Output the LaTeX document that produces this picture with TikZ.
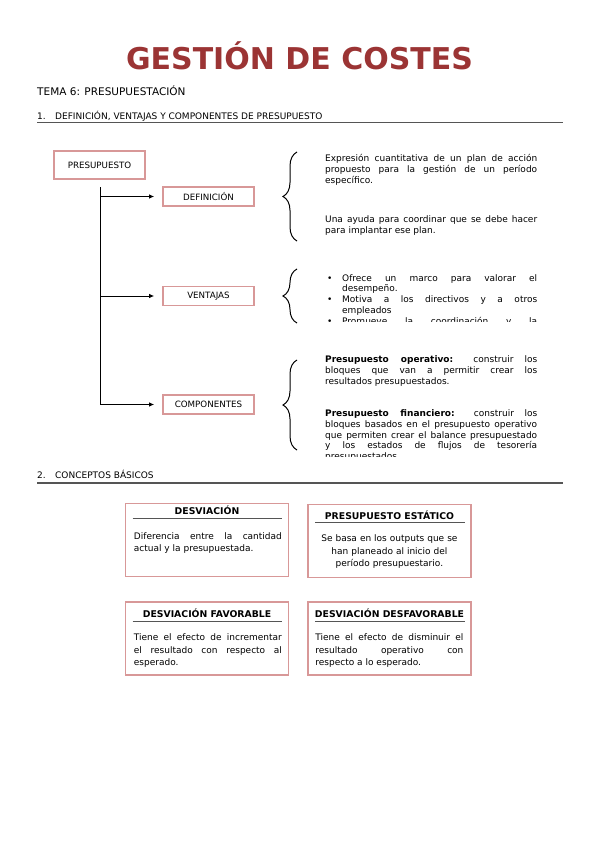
\documentclass[tikz,border=0pt]{standalone}
\usepackage{fontspec}
\setmainfont{DejaVu Sans}
\usetikzlibrary{positioning, arrows.meta, decorations.pathreplacing}
\definecolor{titlered}{RGB}{155,52,52}
\definecolor{boxpink}{RGB}{216,152,152}
\definecolor{rulegray}{RGB}{85,85,85}
\tikzset{
  heading/.style={anchor=base west, inner sep=0pt, font=\fontsize{9}{10}\selectfont},
  keybox/.style={draw=boxpink, line width=1.6pt, minimum width=91pt, minimum height=19pt,
    inner sep=0pt, font=\fontsize{8.7}{10}\selectfont},
  branch/.style={-{Latex[length=5pt,width=4.5pt]}, line width=0.9pt, shorten >=8pt},
  curly/.style={decorate, decoration={brace, amplitude=14pt}, line width=1pt},
  bodytext/.style={anchor=base west, inner sep=0pt, text width=212pt, align=justify,
    font=\fontsize{9}{10.8}\selectfont},
  conceptbox/.style={draw=boxpink, line width=1.6pt, minimum width=163pt, minimum height=73pt,
    inner sep=0pt},
  concepttitle/.style={anchor=base, inner sep=0pt, font=\bfseries\fontsize{9.3}{10}\selectfont},
  conceptbody/.style={anchor=base west, inner sep=0pt, text width=148pt,
    font=\fontsize{9}{12.4}\selectfont},
  titlerule/.style={draw=rulegray, line width=0.8pt}
}
\newcommand{\ventitem}{\leavevmode\llap{\makebox[15pt][l]{•}}}
\begin{document}
\begin{tikzpicture}[x=1pt, y=-1pt]
\useasboundingbox[fill=white] (0,0) rectangle (599,848);

% header
\node[anchor=base, inner sep=0pt, text=titlered, font=\bfseries\fontsize{30}{36}\selectfont]
  (title) at (299.5,70) {GESTIÓN DE COSTES};
\node[heading, font=\fontsize{10.5}{12}\selectfont] (tema) at (37,96) {TEMA 6: PRESUPUESTACIÓN};
\node[heading] (sec1) at (37,119.5) {\makebox[18pt][l]{1.}DEFINICIÓN, VENTAJAS Y COMPONENTES DE PRESUPUESTO};
\draw[rulegray, line width=1.3pt] (37,122.5) -- (563,122.5);

% boxes of the tree
\node[keybox, minimum height=28pt] (presup) at (99.5,165) {PRESUPUESTO};
\node[keybox] (defi) at (208.5,196.5) {DEFINICIÓN};
\node[keybox] (vent) at (208.5,296) {VENTAJAS};
\node[keybox] (comp) at (208.5,404.5) {COMPONENTES};

\coordinate (trunk) at (100,187);
\draw[branch] (trunk) |- (defi.west);
\draw[branch] (trunk) |- (vent.west);
\draw[branch] (trunk) |- (comp.west);

% braces
\draw[curly] (297,241) -- (297,152);
\draw[curly] (297,323) -- (297,269);
\draw[curly] (297,450) -- (297,360);

% definicion
\node[bodytext] (defiA) at (325,161.5)
  {Expresión cuantitativa de un plan de acción\linebreak
   propuesto para la gestión de un período\linebreak
   específico.};
\node[bodytext] (defiB) at (325,222.5)
  {Una ayuda para coordinar que se debe hacer\linebreak
   para implantar ese plan.};

% ventajas
\begin{scope}
\clip (300,260) rectangle (560,321);
\node[bodytext, text width=210pt] (ventA) at (327,281)
  {\leftskip=15pt
   \ventitem Ofrece un marco para valorar el\linebreak desempeño.\par
   \ventitem Motiva a los directivos y a otros\linebreak empleados\par
   \ventitem Promueve la coordinación y la\linebreak comunicación.\par};
\end{scope}

% componentes
\begin{scope}
\clip (300,340) rectangle (560,456.5);
\node[bodytext] (compA) at (325,362.5)
  {\textbf{Presupuesto operativo:} construir los\linebreak
   bloques que van a permitir crear los\linebreak
   resultados presupuestados.};
\node[bodytext] (compB) at (325,416.5)
  {\textbf{Presupuesto financiero:} construir los\linebreak
   bloques basados en el presupuesto operativo\linebreak
   que permiten crear el balance presupuestado\linebreak
   y los estados de flujos de tesorería\linebreak
   presupuestados.};
\end{scope}

% conceptos basicos
\node[heading] (sec2) at (37,478.5) {\makebox[18pt][l]{2.}CONCEPTOS BÁSICOS};
\draw[rulegray, line width=1.3pt] (37,483) -- (563,483);

\node[conceptbox] (desv) at (207,540) {};
\node[concepttitle] (desvTitle) at (207,514.5) {DESVIACIÓN};
\draw[titlerule] ([xshift=8pt,yshift=-16pt]desv.north west) -- ([xshift=-7pt,yshift=-16pt]desv.north east);
\node[conceptbody, align=justify] (desvText) at ([xshift=9pt,yshift=-36.5pt]desv.north west)
  {Diferencia entre la cantidad\linebreak actual y la presupuestada.};

\node[conceptbox] (estat) at (389.5,541) {};
\node[concepttitle] (estatTitle) at (389.5,519.5) {PRESUPUESTO ESTÁTICO};
\draw[titlerule] ([xshift=8pt,yshift=-19pt]estat.north west) -- ([xshift=-7pt,yshift=-19pt]estat.north east);
\node[conceptbody, align=center] (estatText) at ([xshift=8pt,yshift=-38pt]estat.north west)
  {Se basa en los outputs que se\\ han planeado al inicio del\\ período presupuestario.};

\node[conceptbox] (fav) at (207,638.5) {};
\node[concepttitle] (favTitle) at (207,617.5) {DESVIACIÓN FAVORABLE};
\draw[titlerule] ([xshift=8pt,yshift=-20pt]fav.north west) -- ([xshift=-7pt,yshift=-20pt]fav.north east);
\node[conceptbody, align=justify] (favText) at ([xshift=9pt,yshift=-39.5pt]fav.north west)
  {Tiene el efecto de incrementar\linebreak el resultado con respecto al\linebreak esperado.};

\node[conceptbox] (desfav) at (389.5,638.5) {};
\node[concepttitle] (desfavTitle) at (389.5,617.5) {DESVIACIÓN DESFAVORABLE};
\draw[titlerule] ([xshift=8pt,yshift=-20pt]desfav.north west) -- ([xshift=-7pt,yshift=-20pt]desfav.north east);
\node[conceptbody, align=justify] (desfavText) at ([xshift=8pt,yshift=-39.5pt]desfav.north west)
  {Tiene el efecto de disminuir el\linebreak resultado operativo con\linebreak respecto a lo esperado.};
\end{tikzpicture}
\end{document}
